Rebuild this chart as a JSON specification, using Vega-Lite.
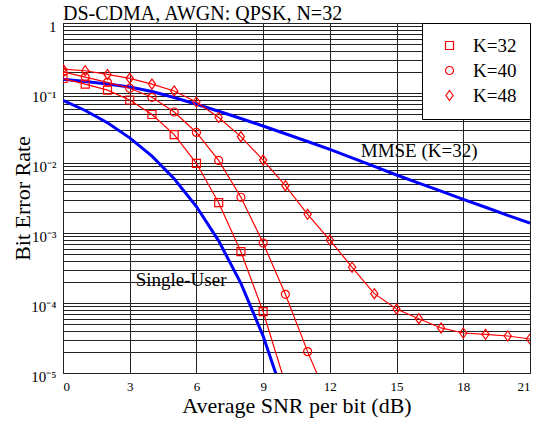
{
  "$schema": "https://vega.github.io/schema/vega-lite/v6.json",
  "autosize": "none",
  "width": 467,
  "height": 350,
  "padding": {"left": 63, "top": 23, "right": 18, "bottom": 51},
  "background": "white",
  "title": {
    "text": "DS-CDMA, AWGN: QPSK, N=32",
    "anchor": "start",
    "frame": "group",
    "font": "Liberation Serif",
    "fontSize": 20,
    "fontWeight": "normal",
    "color": "black",
    "offset": -5
  },
  "config": {
    "view": {"stroke": "black", "strokeWidth": 1},
    "axis": {
      "labelFont": "Liberation Serif",
      "labelColor": "black",
      "titleFont": "Liberation Serif",
      "titleColor": "black",
      "titleFontWeight": "normal",
      "grid": true,
      "gridColor": "#222",
      "gridWidth": 1,
      "gridOpacity": 1,
      "ticks": false,
      "domain": false
    }
  },
  "datasets": {
    "ber": [
      {"snr": 0, "ber": 0.161, "series": "K=32"},
      {"snr": 1, "ber": 0.134, "series": "K=32"},
      {"snr": 2, "ber": 0.110, "series": "K=32"},
      {"snr": 3, "ber": 0.0794, "series": "K=32"},
      {"snr": 4, "ber": 0.0493, "series": "K=32"},
      {"snr": 5, "ber": 0.0255, "series": "K=32"},
      {"snr": 6, "ber": 0.0099, "series": "K=32"},
      {"snr": 7, "ber": 0.00271, "series": "K=32"},
      {"snr": 8, "ber": 0.000541, "series": "K=32"},
      {"snr": 9, "ber": 0.0000751, "series": "K=32"},
      {"snr": 10, "ber": 0.00000697, "series": "K=32"},

      {"snr": 0, "ber": 0.200, "series": "K=40"},
      {"snr": 1, "ber": 0.169, "series": "K=40"},
      {"snr": 2, "ber": 0.142, "series": "K=40"},
      {"snr": 3, "ber": 0.117, "series": "K=40"},
      {"snr": 4, "ber": 0.0868, "series": "K=40"},
      {"snr": 5, "ber": 0.0535, "series": "K=40"},
      {"snr": 6, "ber": 0.0273, "series": "K=40"},
      {"snr": 7, "ber": 0.0109, "series": "K=40"},
      {"snr": 8, "ber": 0.00324, "series": "K=40"},
      {"snr": 9, "ber": 0.00072, "series": "K=40"},
      {"snr": 10, "ber": 0.000133, "series": "K=40"},
      {"snr": 11, "ber": 0.0000202, "series": "K=40"},
      {"snr": 12, "ber": 0.0000036, "series": "K=40"},

      {"snr": 0, "ber": 0.220, "series": "K=48"},
      {"snr": 1, "ber": 0.208, "series": "K=48"},
      {"snr": 2, "ber": 0.184, "series": "K=48"},
      {"snr": 3, "ber": 0.162, "series": "K=48"},
      {"snr": 4, "ber": 0.134, "series": "K=48"},
      {"snr": 5, "ber": 0.107, "series": "K=48"},
      {"snr": 6, "ber": 0.0744, "series": "K=48"},
      {"snr": 7, "ber": 0.0447, "series": "K=48"},
      {"snr": 8, "ber": 0.0238, "series": "K=48"},
      {"snr": 9, "ber": 0.0110, "series": "K=48"},
      {"snr": 10, "ber": 0.00474, "series": "K=48"},
      {"snr": 11, "ber": 0.00185, "series": "K=48"},
      {"snr": 12, "ber": 0.000794, "series": "K=48"},
      {"snr": 13, "ber": 0.000324, "series": "K=48"},
      {"snr": 14, "ber": 0.000136, "series": "K=48"},
      {"snr": 15, "ber": 0.000082, "series": "K=48"},
      {"snr": 16, "ber": 0.0000597, "series": "K=48"},
      {"snr": 17, "ber": 0.000044, "series": "K=48"},
      {"snr": 18, "ber": 0.0000373, "series": "K=48"},
      {"snr": 19, "ber": 0.0000357, "series": "K=48"},
      {"snr": 20, "ber": 0.0000338, "series": "K=48"},
      {"snr": 21, "ber": 0.0000306, "series": "K=48"},

      {"snr": 0, "ber": 0.157, "series": "MMSE"},
      {"snr": 1, "ber": 0.146, "series": "MMSE"},
      {"snr": 2, "ber": 0.134, "series": "MMSE"},
      {"snr": 3, "ber": 0.122, "series": "MMSE"},
      {"snr": 4, "ber": 0.105, "series": "MMSE"},
      {"snr": 5, "ber": 0.0862, "series": "MMSE"},
      {"snr": 6, "ber": 0.0690, "series": "MMSE"},
      {"snr": 7, "ber": 0.0548, "series": "MMSE"},
      {"snr": 8, "ber": 0.0432, "series": "MMSE"},
      {"snr": 9, "ber": 0.0338, "series": "MMSE"},
      {"snr": 10, "ber": 0.0262, "series": "MMSE"},
      {"snr": 11, "ber": 0.0203, "series": "MMSE"},
      {"snr": 12, "ber": 0.0157, "series": "MMSE"},
      {"snr": 13, "ber": 0.01187, "series": "MMSE"},
      {"snr": 14, "ber": 0.00894, "series": "MMSE"},
      {"snr": 15, "ber": 0.00674, "series": "MMSE"},
      {"snr": 16, "ber": 0.00517, "series": "MMSE"},
      {"snr": 17, "ber": 0.00396, "series": "MMSE"},
      {"snr": 18, "ber": 0.00303, "series": "MMSE"},
      {"snr": 19, "ber": 0.00233, "series": "MMSE"},
      {"snr": 20, "ber": 0.00179, "series": "MMSE"},
      {"snr": 21, "ber": 0.00138, "series": "MMSE"},

      {"snr": 0, "ber": 0.07865, "series": "Single"},
      {"snr": 1, "ber": 0.05628, "series": "Single"},
      {"snr": 2, "ber": 0.03751, "series": "Single"},
      {"snr": 3, "ber": 0.02288, "series": "Single"},
      {"snr": 4, "ber": 0.01250, "series": "Single"},
      {"snr": 5, "ber": 0.005954, "series": "Single"},
      {"snr": 6, "ber": 0.002388, "series": "Single"},
      {"snr": 7, "ber": 0.0007727, "series": "Single"},
      {"snr": 8, "ber": 0.0001909, "series": "Single"},
      {"snr": 9, "ber": 0.00003362, "series": "Single"},
      {"snr": 10, "ber": 0.000003872, "series": "Single"}
    ],
    "notes": [
      {"snr": 13.39, "ber": 0.0123, "label": "MMSE (K=32)"},
      {"snr": 3.27, "ber": 0.000175, "label": "Single-User"}
    ]
  },
  "encoding": {
    "x": {
      "field": "snr",
      "type": "quantitative",
      "scale": {"domain": [0, 21], "nice": false, "zero": false},
      "axis": {
        "values": [0, 3, 6, 9, 12, 15, 18, 21],
        "labelFont": "Liberation Serif",
        "labelFontSize": 13,
        "labelPadding": 7,
        "title": "Average SNR per bit (dB)",
        "titleFont": "Liberation Serif",
        "titleFontSize": 22,
        "titleBaseline": "alphabetic",
        "titleY": 39
      }
    },
    "y": {
      "field": "ber",
      "type": "quantitative",
      "scale": {"type": "log", "domain": [0.00001, 1], "nice": false},
      "axis": {
        "values": [0.00001, 0.00002, 0.00003, 0.00004, 0.00005, 0.00006, 0.00007, 0.00008, 0.00009,
                   0.0001, 0.0002, 0.0003, 0.0004, 0.0005, 0.0006, 0.0007, 0.0008, 0.0009,
                   0.001, 0.002, 0.003, 0.004, 0.005, 0.006, 0.007, 0.008, 0.009,
                   0.01, 0.02, 0.03, 0.04, 0.05, 0.06, 0.07, 0.08, 0.09,
                   0.1, 0.2, 0.3, 0.4, 0.5, 0.6, 0.7, 0.8, 0.9, 1],
        "labelExpr": "datum.value >= 0.999 ? '1' : (abs(log(datum.value) / LN10 - round(log(datum.value) / LN10)) < 0.001 ? '10' + ['⁰', '⁻¹', '⁻²', '⁻³', '⁻⁴', '⁻⁵'][-round(log(datum.value) / LN10)] : '')",
        "labelFont": "Liberation Serif",
        "labelFontSize": 15,
        "labelPadding": 7,
        "labelOffset": 3,
        "labelOverlap": false,
        "labelBound": false,
        "title": "Bit Error Rate",
        "titleFont": "Liberation Serif",
        "titleFontSize": 22,
        "titleBaseline": "alphabetic",
        "titleX": -34,
        "titleY": 175,
        "titleAngle": 270
      }
    }
  },
  "layer": [
    {
      "data": {"name": "ber"},
      "transform": [{"filter": "datum.series == 'MMSE' || datum.series == 'Single'"}],
      "mark": {"type": "line", "color": "#0000ff", "strokeWidth": 3, "clip": true},
      "encoding": {"detail": {"field": "series"}}
    },
    {
      "data": {"name": "ber"},
      "transform": [{"filter": "datum.series != 'MMSE' && datum.series != 'Single'"}],
      "mark": {"type": "line", "color": "#ff0000", "strokeWidth": 1.2, "clip": true},
      "encoding": {"detail": {"field": "series"}}
    },
    {
      "data": {"name": "ber"},
      "transform": [{"filter": "datum.series != 'MMSE' && datum.series != 'Single'"}],
      "mark": {"type": "point", "filled": false, "color": "#ff0000", "strokeWidth": 1.2, "size": 64, "opacity": 1, "clip": true},
      "encoding": {
        "shape": {
          "field": "series",
          "type": "nominal",
          "scale": {
            "domain": ["K=32", "K=40", "K=48"],
            "range": ["square", "circle", "M0,-1.25L0.9,0L0,1.25L-0.9,0Z"]
          },
          "legend": {
            "title": null,
            "orient": "top-right",
            "offset": 0,
            "fillColor": "white",
            "strokeColor": "black",
            "padding": 13,
            "labelFont": "Liberation Serif",
            "labelFontSize": 19,
            "labelColor": "black",
            "labelOffset": 14,
            "rowPadding": 5,
            "symbolOffset": 5,
            "symbolSize": 64,
            "symbolStrokeWidth": 1.2,
            "symbolStrokeColor": "#ff0000",
            "symbolFillColor": "transparent"
          }
        }
      }
    },
    {
      "data": {"name": "notes"},
      "mark": {"type": "text", "align": "left", "baseline": "alphabetic", "font": "Liberation Serif", "fontSize": 19, "color": "black"},
      "encoding": {"text": {"field": "label"}}
    }
  ]
}
